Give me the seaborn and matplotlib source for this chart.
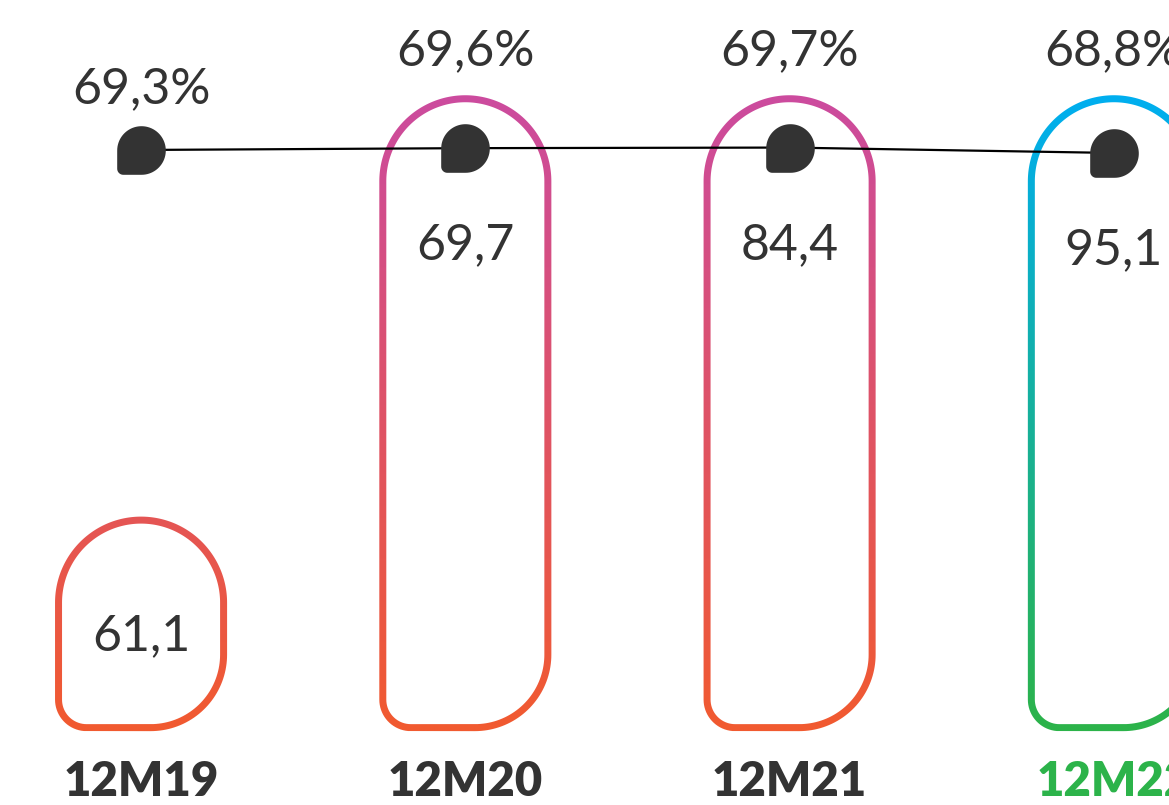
import numpy as np
import pandas as pd
import matplotlib
matplotlib.use("Agg")
import matplotlib.pyplot as plt
import seaborn as sns
from matplotlib.colors import LinearSegmentedColormap, Normalize
from matplotlib.patches import PathPatch
from matplotlib.path import Path

# data
periods = ["12M19", "12M20", "12M21", "12M22"]
revenue = [61.1, 69.7, 84.4, 95.1]          # value printed inside each bar
bar_height = [33, 100, 100, 100]            # drawn height of each outline (relative)
margin = [69.3, 69.6, 69.7, 68.8]           # line series, %
highlight = [False, False, False, True]

TEXT = "#333333"
GREEN = "#2cb34a"
past_cmap = LinearSegmentedColormap.from_list("past", ["#f15a30", "#cc4b9e"])
now_cmap = LinearSegmentedColormap.from_list("now", [GREEN, "#00aeef"])

sns.set_theme(style="white")
plt.rcParams["font.family"] = ["Lato", "DejaVu Sans"]

fig = plt.figure(figsize=(11.69, 8.05), dpi=100)
ax = fig.add_axes([0, 0, 1, 1])
XLIM, YLIM = (-0.435, 3.17), (-12.3, 115.7)
ax.set_xlim(*XLIM)
ax.set_ylim(*YLIM)
ax.axis("off")

ax2 = ax.twinx()
ax2.set_ylim(-39.9, 94.3)
ax2.axis("off")

half_w = 0.2545
stroke_px = 7
px_to_data = ax.transData.inverted()


def shape_points(x0, x1, yb, yt, r_bl, r_br):
    # outline in pixels: round top, big bottom-right corner, small bottom-left corner
    r_top = (x1 - x0) / 2
    cx = (x0 + x1) / 2
    a1 = np.linspace(-np.pi / 2, 0, 40)
    a2 = np.linspace(0, np.pi, 120)
    a3 = np.linspace(np.pi, 1.5 * np.pi, 20)
    return np.vstack([
        np.column_stack([x1 - r_br + r_br * np.cos(a1), yb + r_br + r_br * np.sin(a1)]),
        np.column_stack([cx + r_top * np.cos(a2), yt - r_top + r_top * np.sin(a2)]),
        np.column_stack([x0 + r_bl + r_bl * np.cos(a3), yb + r_bl + r_bl * np.sin(a3)]),
    ])


norm = Normalize(0, max(bar_height))
for i, h in enumerate(bar_height):
    (x0, yb), (x1, yt) = ax.transData.transform([(i - half_w, 0), (i + half_w, h)])
    d = stroke_px / 2
    outer = px_to_data.transform(shape_points(x0 - d, x1 + d, yb - d, yt + d, 28 + d, 73 + d))
    inner = px_to_data.transform(shape_points(x0 + d, x1 - d, yb + d, yt - d, 28 - d, 73 - d))
    ring = Path.make_compound_path(Path(outer, closed=True), Path(inner[::-1], closed=True))
    clip = PathPatch(ring, transform=ax.transData, facecolor="none", edgecolor="none")
    ax.add_patch(clip)

    y_grid = np.linspace(-5, h + 5, 400)
    grad = np.tile(y_grid[:, None], (1, 2))
    im = ax.imshow(grad, cmap=now_cmap if highlight[i] else past_cmap, norm=norm,
                   extent=(i - half_w - 0.05, i + half_w + 0.05, -5, h + 5),
                   origin="lower", aspect="auto", interpolation="bilinear", zorder=2)
    im.set_clip_path(clip)

ax.set_xlim(*XLIM)
ax.set_ylim(*YLIM)

# marker: round drop with a nearly square bottom-left corner
a = np.linspace(-np.pi / 2, np.pi, 60)
r = 0.25
b = np.linspace(np.pi, 1.5 * np.pi, 10)
verts = np.vstack([
    np.column_stack([np.cos(a), np.sin(a)]),
    np.column_stack([-1 + r + r * np.cos(b), -1 + r + r * np.sin(b)]),
    [[0, -1]],
])
drop = Path(verts, closed=True)

df = pd.DataFrame({"x": range(len(periods)), "margin": margin})
sns.lineplot(data=df, x="x", y="margin", ax=ax2, color="black", lw=1.6, zorder=3)
ax2.plot(df["x"], df["margin"], ls="none", marker=drop, markersize=35,
         markerfacecolor=TEXT, markeredgewidth=0, zorder=4)
ax2.set_xlabel("")
ax2.set_ylabel("")
ax2.axis("off")

for i, (p, m, v, h) in enumerate(zip(periods, margin, revenue, bar_height)):
    marker_px = ax2.transData.transform((i, m))[1]
    top_px = ax.transData.transform((i, h))[1]
    pct = f"{m:.1f}%".replace(".", ",")
    val = f"{v:.1f}".replace(".", ",")
    if top_px > marker_px:
        # tall outline: % above the outline, value under the marker
        ax.annotate(pct, (i, h), xytext=(0, 24), textcoords="offset points",
                    ha="center", va="baseline", fontsize=36, color=TEXT)
        ax2.annotate(val, (i, m), xytext=(0, -80), textcoords="offset points",
                     ha="center", va="baseline", fontsize=36, color=TEXT)
    else:
        ax2.annotate(pct, (i, m), xytext=(0, 34), textcoords="offset points",
                     ha="center", va="baseline", fontsize=36, color=TEXT)
        ax.annotate(val, (i, h / 2), xytext=(0, -19), textcoords="offset points",
                    ha="center", va="baseline", fontsize=36, color=TEXT)
    ax.text(i, 0.011, p, transform=ax.get_xaxis_transform(), ha="center", va="baseline",
            fontsize=34, fontweight="heavy", color=GREEN if highlight[i] else TEXT)

fig.savefig("out.png", dpi=100)
